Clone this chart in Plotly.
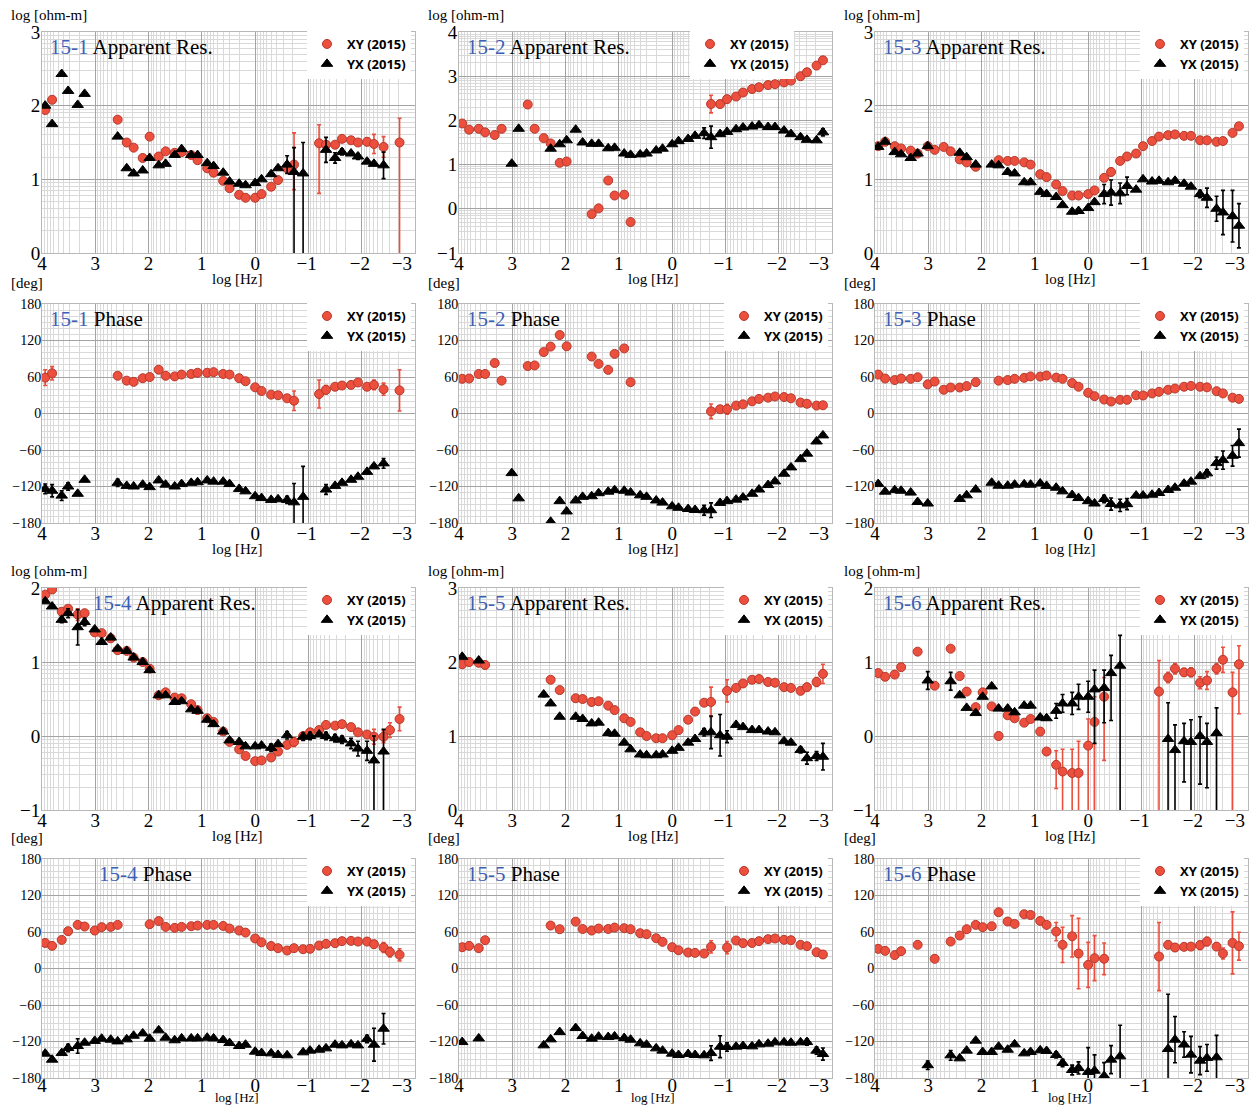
import plotly.graph_objects as go
import numpy as np

N = None

# ---------------- data ----------------
# log10 frequency [Hz] grid shared by all soundings
LOGF = [3.94, 3.81, 3.63, 3.51, 3.33, 3.2, 3.01, 2.88, 2.71, 2.58,
        2.41, 2.28, 2.11, 1.98, 1.81, 1.68, 1.51, 1.38, 1.2, 1.08,
        0.9, 0.78, 0.6, 0.48, 0.3, 0.18, 0.0, -0.12, -0.3, -0.43,
        -0.6, -0.73, -0.9, -1.03, -1.2, -1.33, -1.5, -1.63, -1.8, -1.93,
        -2.1, -2.23, -2.41, -2.53, -2.71, -2.83]

XTICKS = [4, 3, 2, 1, 0, -1, -2, -3]
XTICKTEXT = ["4", "3", "2", "1", "0", "\u22121\u2009", "\u22122\u2009", "\u22123"]
PHASE_TICKS = [180, 120, 60, 0, -60, -120, -180]
PHASE_TICKTEXT = ["180", "120", "60", "0", "\u221260", "\u2212120", "\u2212180"]

SITES = ["15-1", "15-2", "15-3", "15-4", "15-5", "15-6"]
RES_YRANGE = {"15-1": [0, 3], "15-2": [-1, 4], "15-3": [0, 3],
              "15-4": [-1, 2], "15-5": [0, 3], "15-6": [-1, 2]}
LEGEND_NAMES = ["XY (2015)", "YX (2015)"]

# ---- 15-1 ----
RES_15_1_XY = [1.94, 2.08, N, N, N, N, N, N, N, 1.81,
               1.50, 1.43, 1.29, 1.58, 1.31, 1.38, 1.36, 1.37, 1.33, 1.26,
               1.15, 1.09, 0.98, 0.88, 0.79, 0.75, 0.75, 0.80, 0.90, 0.99,
               1.15, 1.20, N, N, 1.49, 1.47, 1.47, 1.55, 1.53, 1.50,
               1.51, 1.48, 1.44, N, 1.50, N]
RES_15_1_XY_ERR = {30: 0.05, 31: (0.43, 0.34), 34: (0.25, 0.68), 35: 0.05, 36: 0.04,
                   39: 0.04, 40: 0.05, 41: 0.13, 42: 0.14, 44: (0.33, 2)}
RES_15_1_YX = [2.0, 1.75, 2.43, 2.20, 2.01, 2.16, N, N, N, 1.58,
               1.15, 1.08, 1.12, 1.29, 1.19, 1.21, 1.33, 1.41, 1.33, 1.33,
               1.22, 1.18, 1.09, 0.97, 0.94, 0.92, 0.95, 1.00, 1.07, 1.15,
               1.20, 1.10, 1.08, N, N, 1.40, 1.29, 1.37, 1.35, 1.31,
               1.24, 1.21, 1.19, N, N, N]
RES_15_1_YX_ERR = {30: 0.12, 31: (0.33, 2), 32: (0.42, 2), 35: 0.17, 36: 0.07,
                   37: 0.04, 39: 0.04, 42: 0.18}
PHA_15_1_XY = [59, 66, N, N, N, N, N, N, N, 62,
               54, 52, 58, 60, 72, 62, 61, 64, 65, 67,
               67, 68, 65, 64, 58, 53, 43, 37, 31, 30,
               25, 21, N, N, 32, 39, 44, 46, 47, 51,
               44, 47, 40, N, 38, N]
PHA_15_1_XY_ERR = {0: 13, 1: 11, 31: 16, 34: 23, 35: 7, 41: 8, 42: 10, 44: 34}
PHA_15_1_YX = [-124, -127, -135, -120, -132, -109, N, N, N, -114,
               -119, -120, -117, -121, -110, -117, -120, -116, -114, -113,
               -110, -112, -112, -116, -124, -128, -136, -139, -142, -141,
               -142, -146, -137, N, N, -125, -119, -114, -109, -104,
               -96, -87, -82, N, N, N]
PHA_15_1_YX_ERR = {0: 8, 1: 10, 2: 8, 3: 6, 9: 6, 30: 6, 31: (31, 60), 32: (50, 60),
                   35: 8, 42: 8}

# ---- 15-2 ----
RES_15_2_XY = [1.93, 1.79, 1.81, 1.73, 1.67, 1.81, N, N, 2.36, 1.81,
               1.60, 1.48, 1.04, 1.07, N, N, -0.12, 0.01, 0.64, 0.30,
               0.32, -0.30, N, N, N, N, N, N, N, N,
               N, 2.37, 2.37, 2.48, 2.54, 2.63, 2.71, 2.75, 2.80, 2.82,
               2.86, 2.90, 3.0, 3.09, 3.24, 3.36]
RES_15_2_XY_ERR = {31: 0.2, 32: 0.08, 33: 0.08}
RES_15_2_YX = [N, N, N, N, N, N, 1.02, 1.81, N, N,
               N, 1.36, 1.46, 1.55, 1.79, 1.50, 1.47, 1.47, 1.37, 1.38,
               1.25, 1.22, 1.23, 1.25, 1.32, 1.36, 1.46, 1.53, 1.58, 1.65,
               1.71, 1.62, 1.69, 1.74, 1.80, 1.84, 1.86, 1.89, 1.85, 1.85,
               1.77, 1.69, 1.62, 1.56, 1.55, 1.73]
RES_15_2_YX_ERR = {30: 0.12, 31: 0.25, 45: 0.08}
PHA_15_2_XY = [57, 57.5, 65, 65, 83, 54, N, N, 78, 79,
               101, 110, 129, 110.5, N, N, 93.6, 81.5, 71.7, 98,
               107, 51.5, N, N, N, N, N, N, N, N,
               N, 3.5, 7, 7, 13, 15, 20, 24, 26, 28,
               27, 25, 18, 16, 13, 13.5]
PHA_15_2_XY_ERR = {31: 12, 33: 8}
PHA_15_2_YX = [N, N, N, N, N, N, -98, -139.5, N, N,
               N, -178, -144, -161, -143, -137, -136, -131, -128.5, -126,
               -127, -130, -134.5, -137, -143, -146.5, -152.6, -155, -157, -158.6,
               -159, -159, -147, -144, -141.6, -138, -132, -125, -117.6, -111.6,
               -99, -88.6, -75, -66, -46, -36]
PHA_15_2_YX_ERR = {30: 8, 31: 12}

# ---- 15-3 ----
RES_15_3_XY = [1.45, 1.51, 1.45, 1.42, 1.39, 1.35, 1.45, 1.40, 1.44, 1.38,
               1.27, 1.23, 1.17, N, N, 1.26, 1.25, 1.25, 1.23, 1.20,
               1.07, 1.03, 0.93, 0.84, 0.78, 0.78, 0.80, 0.85, 1.02, 1.10,
               1.25, 1.31, 1.35, 1.45, 1.52, 1.58, 1.60, 1.61, 1.59, 1.59,
               1.53, 1.53, 1.51, 1.52, 1.63, 1.72]
RES_15_3_XY_ERR = {29: 0.05}
RES_15_3_YX = [1.44, 1.51, 1.37, 1.34, 1.29, 1.35, 1.45, N, N, N,
               1.36, 1.30, 1.20, N, 1.20, 1.19, 1.10, 1.08, 0.96, 0.96,
               0.83, 0.80, 0.76, 0.65, 0.56, 0.57, 0.61, 0.69, 0.80, 0.82,
               0.81, 0.91, 0.86, 1.0, 0.97, 0.98, 0.96, 0.98, 0.94, 0.90,
               0.80, 0.75, 0.60, 0.55, 0.50, 0.37]
RES_15_3_YX_ERR = {28: 0.13, 29: 0.17, 30: 0.14, 31: 0.12, 40: 0.05, 41: 0.13,
                   42: 0.17, 43: 0.3, 44: 0.35, 45: 0.3}
PHA_15_3_XY = [64, 57.5, 55, 57.5, 57, 59.6, 48, 52.5, 39, 42.7,
               42.7, 45, 51.5, N, N, 54, 55, 57, 58.6, 61,
               60.7, 62.4, 59, 57, 50, 44, 34, 28.5, 23, 19.7,
               22.5, 22.5, 30, 29.6, 33, 35.6, 39, 41, 44, 45.4,
               44, 43, 36.7, 33, 26, 24]
PHA_15_3_XY_ERR = {}
PHA_15_3_YX = [-116, -128.5, -126, -127, -130, -145.5, -148, N, N, N,
               -140.6, -134.5, -125, N, -113.8, -118.7, -118.7, -117, -116.5, -117,
               -115, -119, -122, -128, -134, -139, -144, -148, -140.6, -148.8,
               -151, -149, -135, -135, -133.5, -130.7, -125.8, -122, -115.4, -112,
               -103, -98.4, -81.5, -76.6, -69.5, -48.7]
PHA_15_3_YX_ERR = {28: 6, 29: 10, 30: 10, 31: 9, 41: 6, 42: 10, 43: 15, 44: 17, 45: 23}

# ---- 15-4 ----
RES_15_4_XY = [1.91, 1.98, 1.68, 1.72, 1.64, 1.66, 1.40, 1.39, 1.32, 1.16,
               1.15, 1.06, 1.0, 0.91, 0.55, 0.59, 0.52, 0.51, 0.43, 0.35,
               0.24, 0.19, 0.06, -0.08, -0.18, -0.27, -0.34, -0.33, -0.29, -0.21,
               -0.12, -0.08, 0.0, 0.05, 0.08, 0.15, 0.14, 0.16, 0.12, 0.05,
               0.02, -0.01, -0.01, 0.08, 0.23, N]
RES_15_4_XY_ERR = {3: 0.04, 4: 0.08, 31: 0.06, 41: 0.1, 42: 0.08, 43: 0.1, 44: 0.16}
RES_15_4_YX = [1.82, 1.75, 1.57, 1.66, 1.47, 1.54, 1.44, 1.27, 1.33, 1.18,
               1.15, 1.06, 1.0, 0.89, 0.55, 0.55, 0.46, 0.47, 0.36, 0.34,
               0.22, 0.16, 0.06, -0.06, -0.08, -0.14, -0.14, -0.13, -0.16, -0.11,
               0.01, N, -0.01, 0.0, 0.02, 0.0, -0.03, -0.05, -0.10, -0.17,
               -0.20, -0.33, -0.21, N, N, N]
RES_15_4_YX_ERR = {2: 0.04, 3: 0.06, 4: 0.24, 5: 0.05, 28: 0.05, 30: 0.05, 32: 0.05,
                   33: 0.05, 35: 0.05, 36: 0.05, 37: 0.05, 38: 0.07, 39: 0.1,
                   40: 0.13, 41: (0.33, 2), 42: (0.3, 2)}
PHA_15_4_XY = [42, 37.2, 47, 61.3, 71.7, 69, 62.4, 68, 68.4, 71.7,
               N, N, N, 72.8, 78, 68.4, 66.8, 68.4, 69.5, 70.6,
               71.7, 71.7, 70, 65.7, 62.4, 59, 49.3, 43, 37, 33.4,
               29.6, 33.4, 31.7, 32.3, 37.8, 40.5, 41.6, 45, 45.4, 44.3,
               44.3, 40, 34.5, 27, 22.5, N]
PHA_15_4_XY_ERR = {4: 5, 41: 6, 42: 8, 43: 8, 44: 10}
PHA_15_4_YX = [-140, -149.9, -139, -130.7, -127.4, -122, -119, -115.4, -117, -119.8,
               -116.5, -110.5, -106.7, -115.4, -101.7, -113.8, -118, -114.9, -114.9, -114.9,
               -113.8, -114.9, -117.6, -122.5, -127.4, -125.3, -136.7, -139, -139.5, -142,
               -142.7, N, -137.8, -135, -133.5, -131.3, -125.3, -126.4, -124.7, -126.4,
               -116, -125.3, -99, N, N, N]
PHA_15_4_YX_ERR = {3: 6, 4: 12, 40: 6, 41: 27, 42: 25}

# ---- 15-5 ----
RES_15_5_XY = [1.97, 2.0, 1.99, 1.96, N, N, N, N, N, N,
               N, 1.76, 1.62, N, 1.51, 1.50, 1.46, 1.47, 1.41, 1.35,
               1.24, 1.19, 1.05, 1.0, 0.97, 0.97, 1.01, 1.08, 1.22, 1.33,
               1.45, 1.46, N, 1.61, 1.65, 1.71, 1.76, 1.77, 1.73, 1.72,
               1.66, 1.65, 1.61, 1.66, 1.73, 1.84]
RES_15_5_XY_ERR = {0: 0.04, 1: 0.05, 2: 0.05, 3: 0.05, 31: 0.2, 33: 0.15, 42: 0.04,
                   43: 0.05, 44: 0.06, 45: 0.13}
RES_15_5_YX = [2.07, N, 2.02, N, N, N, N, N, N, N,
               1.56, 1.44, 1.26, N, 1.26, 1.23, 1.17, 1.18, 1.04, 1.03,
               0.91, 0.82, 0.75, 0.74, 0.74, 0.75, 0.80, 0.84, 0.91, 0.96,
               1.05, 1.05, 1.01, 0.99, 1.15, 1.12, 1.08, 1.08, 1.06, 1.05,
               0.93, 0.91, 0.81, 0.70, 0.73, 0.72]
RES_15_5_YX_ERR = {10: 0.03, 30: 0.05, 31: 0.22, 32: 0.28, 33: 0.08, 42: 0.04,
                   43: 0.08, 44: 0.06, 45: 0.18}
PHA_15_5_XY = [35, 37.2, 33.4, 46.5, N, N, N, N, N, N,
               N, 70.6, 64.6, N, 77, 65, 62.4, 65.7, 65, 67.3,
               66.2, 64.6, 58, 56.4, 49.8, 43.8, 35, 30, 26.3, 25.7,
               24.6, 35.6, N, 34.5, 46, 41.6, 42, 45, 48.2, 49.3,
               47.1, 46.5, 38.9, 36.7, 26.8, 23]
PHA_15_5_XY_ERR = {31: 10, 33: 10, 45: 6}
PHA_15_5_YX = [-120.9, N, -114.9, N, N, N, N, N, N, N,
               -126.3, -116.5, -104.5, N, -97.9, -111, -115.4, -112, -112.7, -111.6,
               -114.3, -117, -123, -125.3, -131.3, -135, -140, -142.2, -140.6, -142.2,
               -142.7, -139, -128.5, -129, -128.5, -127.4, -128, -124.7, -123.6, -121.4,
               -121.4, -122, -121.4, -120.9, -135, -140.6]
PHA_15_5_YX_ERR = {31: 12, 32: 18, 33: 7, 43: 5, 44: 6, 45: 10}

# ---- 15-6 ----
RES_15_6_XY = [0.85, 0.80, 0.83, 0.93, N, 1.14, N, 0.68, N, 1.18,
               0.81, 0.60, 0.39, 0.59, 0.40, 0.0, 0.28, 0.24, 0.18, 0.23,
               0.06, -0.21, -0.39, -0.48, -0.50, -0.50, -0.13, 0.19, 0.53, N,
               N, N, N, N, N, 0.60, 0.79, 0.91, 0.86, 0.86,
               0.72, 0.75, 0.91, 1.03, 0.59, 0.97]
RES_15_6_XY_ERR = {10: 0.04, 15: 0.05, 19: 0.03, 20: 0.04, 21: 0.04, 22: (0.19, 0.32),
                   23: (0.3, 2), 24: (0.32, 2), 25: (0.43, 2), 26: (0.36, 2),
                   27: (0.34, 2), 28: (0.26, 0.86), 35: (0.42, 2), 36: 0.07, 37: 0.07,
                   38: 0.05, 39: 0.06, 40: 0.08, 41: 0.12, 42: 0.07, 43: 0.17,
                   44: (0.27, 2), 45: (0.25, 0.67)}
RES_15_6_YX = [N, N, N, N, N, N, 0.75, N, N, 0.74,
               0.55, 0.38, 0.31, 0.53, 0.67, 0.37, 0.37, 0.32, 0.41, 0.41,
               0.25, 0.24, 0.34, 0.44, 0.44, 0.53, 0.53, 0.63, 0.65, 0.85,
               0.95, N, N, N, N, N, -0.04, -0.19, -0.07, -0.08,
               0.0, -0.08, 0.04, N, N, N]
RES_15_6_YX_ERR = {6: 0.12, 9: 0.12, 22: 0.1, 23: 0.12, 24: 0.15, 25: 0.17, 26: 0.21,
                   27: (0.26, 0.73), 28: (0.24, 0.47), 29: (0.24, 0.64), 30: (0.41, 2),
                   36: (0.49, 2), 37: (0.34, 2), 38: (0.24, 0.55), 39: (0.3, 2),
                   40: (0.26, 0.65), 41: (0.25, 0.62), 42: (0.34, 2)}
PHA_15_6_XY = [32.3, 29, 22, 28.5, N, 38.9, N, 16, N, 44.3,
               54.2, 64.6, 71.7, 67.9, 69.5, 92.5, 77.2, 73.3, 89.2, 88,
               78.2, 71.7, 60.7, 38.9, 53, 24.6, 6, 17, 16, N,
               N, N, N, N, N, 19.7, 38.9, 34.5, 35.6, 36,
               38.3, 44.3, 36, 24.6, 42.1, 36.7]
PHA_15_6_XY_ERR = {15: 5, 22: 15, 23: 29, 24: 34, 25: 58, 26: 37, 27: 37, 28: 26,
                   35: 56, 36: 6, 37: 6, 40: 7, 41: 7, 42: 5, 43: 9, 44: 51, 45: 23}
PHA_15_6_YX = [N, N, N, N, N, N, -159, N, N, -142.7,
               -147.7, -135, -118.7, -137.2, -137.2, -128.5, -133.5, -124.7, -139.5, -137.2,
               -134.5, -135.6, -142.2, -155.3, -166.8, -163.5, -170, -168, -176.7, -149.8,
               -144.4, N, N, N, N, N, -132.4, -117, -125, -141.6,
               -151.5, -147, -146, N, N, N]
PHA_15_6_YX_ERR = {6: 7, 9: 8, 22: 5, 23: 6, 24: 8, 25: 10, 26: (40, 60), 27: (26, 60),
                   28: (22, 60), 29: 23, 30: (51, 60), 36: (90, 60), 37: 38, 38: 21,
                   39: 30, 40: 23, 41: 22, 42: (36, 60)}

DATA = {
    ("15-1", "res"): (RES_15_1_XY, RES_15_1_XY_ERR, RES_15_1_YX, RES_15_1_YX_ERR),
    ("15-1", "pha"): (PHA_15_1_XY, PHA_15_1_XY_ERR, PHA_15_1_YX, PHA_15_1_YX_ERR),
    ("15-2", "res"): (RES_15_2_XY, RES_15_2_XY_ERR, RES_15_2_YX, RES_15_2_YX_ERR),
    ("15-2", "pha"): (PHA_15_2_XY, PHA_15_2_XY_ERR, PHA_15_2_YX, PHA_15_2_YX_ERR),
    ("15-3", "res"): (RES_15_3_XY, RES_15_3_XY_ERR, RES_15_3_YX, RES_15_3_YX_ERR),
    ("15-3", "pha"): (PHA_15_3_XY, PHA_15_3_XY_ERR, PHA_15_3_YX, PHA_15_3_YX_ERR),
    ("15-4", "res"): (RES_15_4_XY, RES_15_4_XY_ERR, RES_15_4_YX, RES_15_4_YX_ERR),
    ("15-4", "pha"): (PHA_15_4_XY, PHA_15_4_XY_ERR, PHA_15_4_YX, PHA_15_4_YX_ERR),
    ("15-5", "res"): (RES_15_5_XY, RES_15_5_XY_ERR, RES_15_5_YX, RES_15_5_YX_ERR),
    ("15-5", "pha"): (PHA_15_5_XY, PHA_15_5_XY_ERR, PHA_15_5_YX, PHA_15_5_YX_ERR),
    ("15-6", "res"): (RES_15_6_XY, RES_15_6_XY_ERR, RES_15_6_YX, RES_15_6_YX_ERR),
    ("15-6", "pha"): (PHA_15_6_XY, PHA_15_6_XY_ERR, PHA_15_6_YX, PHA_15_6_YX_ERR),
}

# ---------------- layout / style ----------------
PAGE_W, PAGE_H = 1260, 1115
BODY = 8                      # default browser body margin
W, H = PAGE_W - 2 * BODY, PAGE_H - 2 * BODY
COL_PX = [(42, 415), (459, 832), (875, 1248)]
ROW_PX = [(32, 253), (304, 523), (588, 810), (859, 1078)]
# (site, kind, row, col, title x-offset px, legend right inset px)
PANELS = [
    ("15-1", "res", 0, 0, 6, 4), ("15-2", "res", 0, 1, 6, 38), ("15-3", "res", 0, 2, 6, 4),
    ("15-1", "pha", 1, 0, 6, 4), ("15-2", "pha", 1, 1, 6, 4), ("15-3", "pha", 1, 2, 6, 4),
    ("15-4", "res", 2, 0, 49, 4), ("15-5", "res", 2, 1, 6, 4), ("15-6", "res", 2, 2, 6, 4),
    ("15-4", "pha", 3, 0, 55, 4), ("15-5", "pha", 3, 1, 6, 4), ("15-6", "pha", 3, 2, 6, 4),
]

SERIF = "Liberation Serif"
RED = "#ec4f3d"
RED_EDGE = "#b5392b"
BLUE = "#3d5fb5"
MAJOR_GRID = "#a3a3a3"
MINOR_GRID = "#d9d9d9"
XTICKFONT = dict(family=SERIF, size=19, color="black")


def px_x(p):
    return (p - BODY) / W


def px_y(p):
    return 1 - (p - BODY) / H


def err_arrays(vals, errs):
    up, dn = [], []
    for i, v in enumerate(vals):
        e = errs.get(i, 0)
        if isinstance(e, tuple):
            up.append(e[0]); dn.append(e[1])
        else:
            up.append(e); dn.append(e)
    return up, dn


minor_x = [n + np.log10(k) for n in range(-3, 4) for k in range(2, 10)]

fig = go.Figure()
annotations = []
layout = {}
n_panels = len(PANELS)

for i, (site, kind, r, c, toff, linset) in enumerate(PANELS):
    ax = "" if i == 0 else str(i + 1)
    ov = str(n_panels + i + 1)          # overlay axis carrying the right-end tick label
    xl, xr = COL_PX[c]
    yt, yb = ROW_PX[r]
    last_row = (r == len(ROW_PX) - 1)
    legname = "legend" if i == 0 else f"legend{i + 1}"
    xy, xy_err, yx, yx_err = DATA[(site, kind)]

    for name, vals, errs, sym, col, edge, size, ecol in [
        (LEGEND_NAMES[0], xy, xy_err, "circle", RED, RED_EDGE, 9, RED),
        (LEGEND_NAMES[1], yx, yx_err, "triangle-up", "black", "black", 10, "black"),
    ]:
        up, dn = err_arrays(vals, errs)
        fig.add_trace(go.Scatter(
            x=LOGF, y=vals, mode="markers", name=name,
            xaxis="x" + ax, yaxis="y" + ax, legend=legname,
            marker=dict(symbol=sym, size=size, color=col, line=dict(color=edge, width=1)),
            error_y=dict(type="data", symmetric=False, array=up, arrayminus=dn,
                         color=ecol, thickness=1.6, width=2),
        ))
    # empty placeholder so that the overlay x-axis gets drawn
    fig.add_trace(go.Scatter(x=[None], y=[None], mode="markers", showlegend=False,
                             hoverinfo="skip", xaxis="x" + ov, yaxis="y" + ax))

    if kind == "res":
        y0, y1 = RES_YRANGE[site]
        ytv = list(range(y0, y1 + 1))
        ytt = [("\u2212" + str(-v)) if v < 0 else str(v) for v in ytv]
        yminor = [n + np.log10(k) for n in range(y0, y1) for k in range(2, 10)]
        yfont = dict(family=SERIF, size=19, color="black")
        yrange = [y0, y1]
    else:
        ytv, ytt = PHASE_TICKS, PHASE_TICKTEXT
        yminor = [v for v in range(-170, 180, 10) if v % 60 != 0]
        yfont = dict(family=SERIF, size=14, color="black")
        yrange = [-180, 180]

    standoff = -10 if last_row else -7
    layout["xaxis" + ax] = dict(
        domain=[px_x(xl), px_x(xr)], range=[4, -3], anchor="y" + ax,
        tickmode="array", tickvals=XTICKS[:-1], ticktext=XTICKTEXT[:-1],
        tickfont=XTICKFONT, ticks="",
        showgrid=True, gridcolor=MAJOR_GRID, gridwidth=1, zeroline=False,
        minor=dict(tickmode="array", tickvals=minor_x, showgrid=True,
                   gridcolor=MINOR_GRID, gridwidth=1, ticks=""),
        showline=True, mirror=True, linecolor="#b8b8b8", linewidth=1,
        ticklabelstandoff=standoff, automargin=False,
    )
    # right-end label drawn right-aligned so that it stays inside the page
    layout["xaxis" + ov] = dict(
        overlaying="x" + ax, anchor="y" + ax, side="bottom", range=[4, -3],
        tickmode="array", tickvals=XTICKS[-1:], ticktext=XTICKTEXT[-1:],
        tickfont=XTICKFONT, ticks="", ticklabelposition="outside left",
        ticklabelshift=3, ticklabelstandoff=standoff + 4,
        showgrid=False, zeroline=False, showline=False, automargin=False,
    )
    layout["yaxis" + ax] = dict(
        domain=[px_y(yb), px_y(yt)], range=yrange, anchor="x" + ax,
        tickmode="array", tickvals=ytv, ticktext=ytt, tickfont=yfont, ticks="",
        showgrid=True, gridcolor=MAJOR_GRID, gridwidth=1, zeroline=False,
        minor=dict(tickmode="array", tickvals=yminor, showgrid=True,
                   gridcolor=MINOR_GRID, gridwidth=1, ticks=""),
        showline=True, mirror=True, linecolor="#b8b8b8", linewidth=1,
        ticklabelstandoff=-3, automargin=False, ticklabeloverflow="allow",
    )
    layout[legname] = dict(
        x=px_x(xr - linset), y=px_y(yt - 3), xanchor="right", yanchor="top",
        xref="paper", yref="paper", bgcolor="white", borderwidth=0,
        font=dict(family="Open Sans", size=13, color="black", weight="bold"),
        itemwidth=30, tracegroupgap=0,
    )

    # panel title
    label = "Apparent Res." if kind == "res" else "Phase"
    annotations.append(dict(
        text=f"<span style='color:{BLUE}'>{site}</span> {label}",
        xref="paper", yref="paper", x=px_x(xl + toff), y=px_y(yt + 15),
        xanchor="left", yanchor="middle", showarrow=False,
        font=dict(family=SERIF, size=21, color="black"),
    ))
    # y unit label
    unit = "log [ohm-m]" if kind == "res" else "[deg]"
    annotations.append(dict(
        text=unit, xref="paper", yref="paper",
        x=px_x(xl - 33), y=px_y(yt - 17 if kind == "res" else yt - 21),
        xanchor="left", yanchor="middle", showarrow=False,
        font=dict(family=SERIF, size=15, color="black"),
    ))
    # x unit label (bottom row kept inside the page)
    if last_row:
        xlab = dict(y=0, yanchor="bottom", font=dict(family=SERIF, size=13, color="black"))
    else:
        xlab = dict(y=px_y(yb + 26), yanchor="middle",
                    font=dict(family=SERIF, size=15, color="black"))
    annotations.append(dict(
        text="log [Hz]", xref="paper", yref="paper",
        x=px_x((xl + xr) / 2 + 8), xanchor="center", showarrow=False, **xlab,
    ))

fig.update_layout(
    width=W, height=H,
    margin=dict(l=0, r=0, t=0, b=0, pad=0, autoexpand=False),
    paper_bgcolor="white", plot_bgcolor="white", showlegend=True,
    annotations=annotations, **layout,
)

fig.write_html("out.html", config={"displayModeBar": False})
